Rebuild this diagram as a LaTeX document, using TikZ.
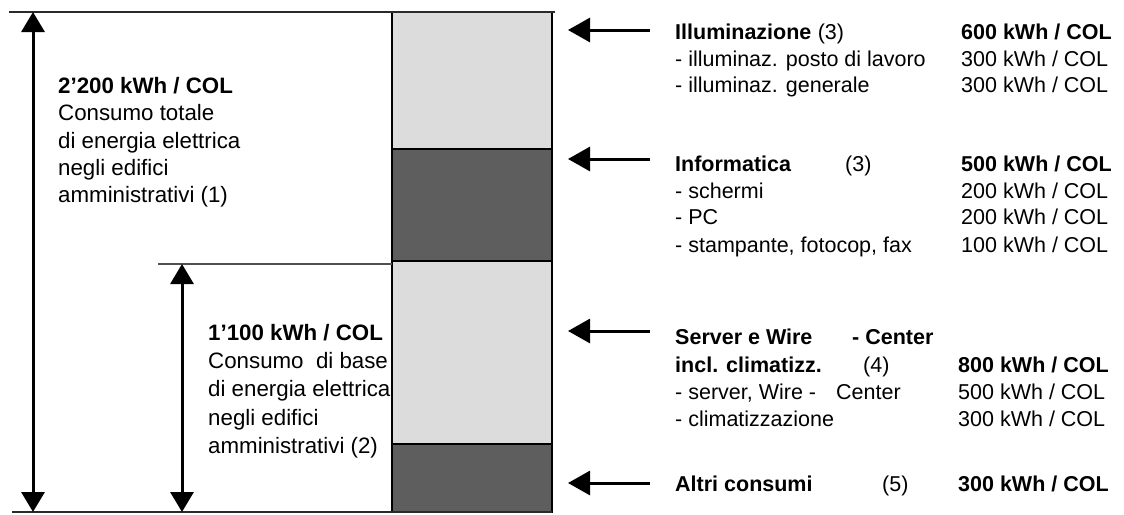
\documentclass[tikz,border=0pt]{standalone}
\usepackage{fontspec}
\setmainfont{Liberation Sans}
\usetikzlibrary{arrows.meta}
\definecolor{lightfill}{HTML}{DCDCDC}
\definecolor{darkfill}{HTML}{5E5E5E}
\definecolor{rulecol}{HTML}{2A2A2A}
\definecolor{midrule}{HTML}{505050}
\begin{document}
\begin{tikzpicture}[x=1pt,y=-1pt,
  txt/.style={anchor=base west, inner sep=0pt, font=\fontsize{21.5}{27}\selectfont},
  btxt/.style={anchor=base west, inner sep=0pt, font=\fontsize{21.5}{27}\selectfont\bfseries},
  ltxt/.style={anchor=base west, inner sep=0pt, font=\fontsize{22.3}{27}\selectfont},
  lbtxt/.style={anchor=base west, inner sep=0pt, font=\fontsize{22.3}{27}\selectfont\bfseries},
  dimarrow/.style={line width=3pt, {Triangle[width=23pt,length=20pt]}-{Triangle[width=23pt,length=20pt]}},
  ptr/.style={line width=3pt, -{Triangle[width=24pt,length=22pt]}},
  segment/.style={draw=black, line width=1.6pt},
  hrule/.style={draw=rulecol, line width=2pt}]
\useasboundingbox (0,0) rectangle (1124,514);

% bar segments
\draw[segment, fill=lightfill] (392,12) rectangle (552,149);
\draw[segment, fill=darkfill] (392,149) rectangle (552,261);
\draw[segment, fill=lightfill] (392,261) rectangle (552,444);
\draw[segment, fill=darkfill] (392,444) rectangle (552,512);

% horizontal rules
\draw[hrule] (9,12) -- (555,12);
\draw[hrule] (12,512) -- (552,512);
\draw[draw=midrule, line width=2pt] (158,264) -- (392,264);

% dimension arrows
\coordinate (totTop) at (33,12);
\coordinate (totBot) at (33,512);
\coordinate (baseTop) at (182,264);
\coordinate (baseBot) at (182,512);
\draw[dimarrow] (totTop) -- (totBot);
\draw[dimarrow] (baseTop) -- (baseBot);

% pointer arrows
\coordinate (p1s) at (650,30);  \coordinate (p1e) at (568,30);
\coordinate (p2s) at (650,159); \coordinate (p2e) at (568,159);
\coordinate (p3s) at (650,331); \coordinate (p3e) at (568,331);
\coordinate (p4s) at (650,483); \coordinate (p4e) at (568,483);
\draw[ptr] (p1s) -- (p1e);
\draw[ptr] (p2s) -- (p2e);
\draw[ptr] (p3s) -- (p3e);
\draw[ptr] (p4s) -- (p4e);

% left block 1
\node[lbtxt] (t1a) at (58,93) {2’200 kWh / COL};
\node[ltxt] (t1b) at (58,120.5) {Consumo totale};
\node[ltxt] (t1c) at (58,148) {di energia elettrica};
\node[ltxt] (t1d) at (58,175) {negli edifici};
\node[ltxt] (t1e) at (58,202) {amministrativi (1)};

% left block 2
\node[lbtxt] (t2a) at (208,340) {1’100 kWh / COL};
\node[ltxt] (t2b) at (208,368) {Consumo\ \ di base};
\node[ltxt] (t2c) at (208,396.5) {di energia elettrica};
\node[ltxt] (t2d) at (208,425) {negli edifici};
\node[ltxt] (t2e) at (208,453) {amministrativi (2)};

% right: Illuminazione
\node[btxt] (r1a) at (675,39) {Illuminazione};
\node[txt] (r1n) at (r1a.base east) [xshift=6pt] {(3)};
\node[btxt] (v1a) at (961,39) {600 kWh / COL};
\node[txt] (r1b) at (675,66) {- illuminaz. posto di lavoro};
\node[txt] (v1b) at (961,66) {300 kWh / COL};
\node[txt] (r1c) at (675,92.5) {- illuminaz. generale};
\node[txt] (v1c) at (961,92.5) {300 kWh / COL};

% right: Informatica
\node[btxt] (r2a) at (675,171) {Informatica};
\node[txt] (r2n) at (845,171) {(3)};
\node[btxt] (v2a) at (961,171) {500 kWh / COL};
\node[txt] (r2b) at (675,198) {- schermi};
\node[txt] (v2b) at (961,198) {200 kWh / COL};
\node[txt] (r2c) at (675,224.5) {- PC};
\node[txt] (v2c) at (961,224.5) {200 kWh / COL};
\node[txt] (r2d) at (675,252) {- stampante, fotocop, fax};
\node[txt] (v2d) at (961,252) {100 kWh / COL};

% right: Server
\node[btxt] (r3a) at (675,344) {Server e Wire};
\node[btxt] (r3x) at (852,344) {- Center};
\node[btxt] (r3b) at (675,372) {incl. climatizz.};
\node[txt] (r3n) at (863,372) {(4)};
\node[btxt] (v3a) at (958,372) {800 kWh / COL};
\node[txt] (r3c) at (675,399) {- server, Wire -};
\node[txt] (r3y) at (836,399) {Center};
\node[txt] (v3c) at (958,399) {500 kWh / COL};
\node[txt] (r3d) at (675,426) {- climatizzazione};
\node[txt] (v3d) at (958,426) {300 kWh / COL};

% right: Altri
\node[btxt] (r4a) at (675,491) {Altri consumi};
\node[txt] (r4n) at (882,491) {(5)};
\node[btxt] (v4a) at (958,491) {300 kWh / COL};
\end{tikzpicture}
\end{document}
